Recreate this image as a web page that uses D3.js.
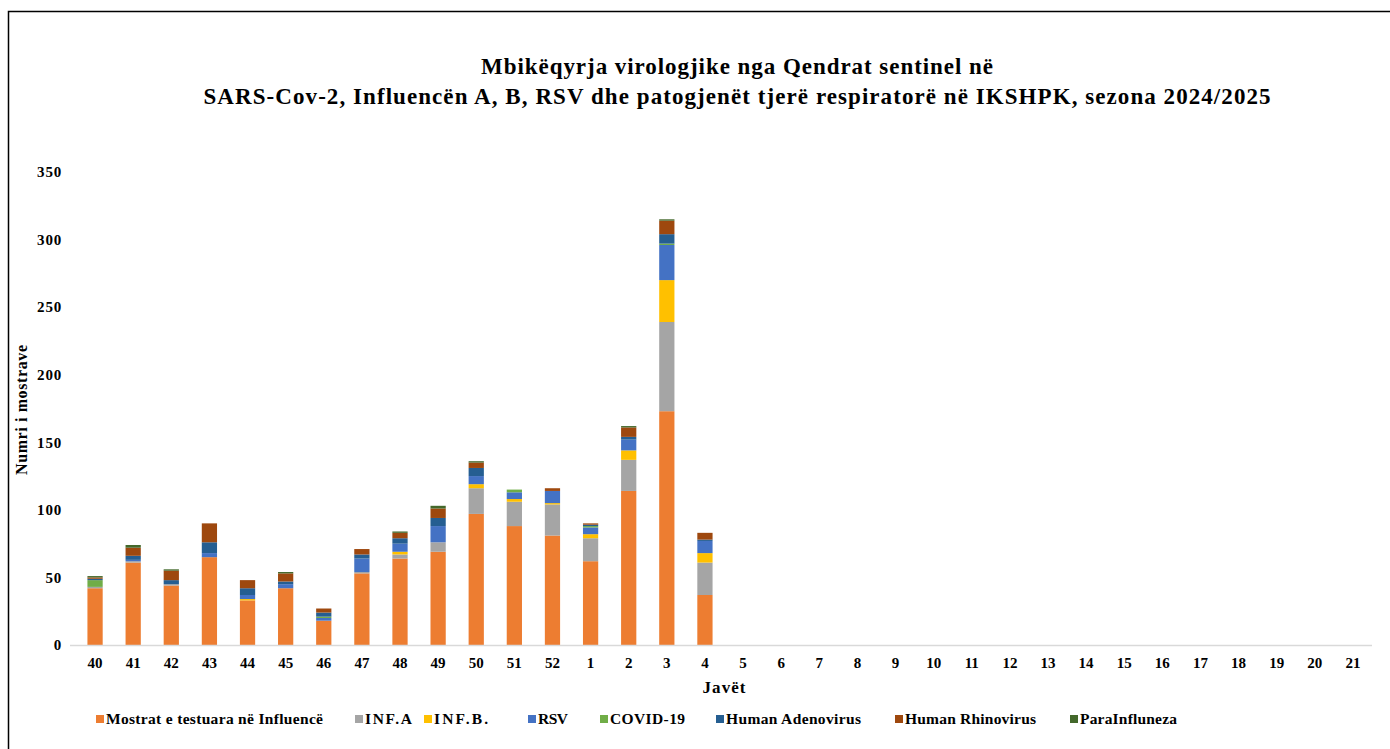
<!DOCTYPE html>
<html>
<head>
<meta charset="utf-8">
<script src="https://cdn.jsdelivr.net/npm/d3@7"></script>
<style>
  body { margin: 0; background: #fff; }
  svg text { font-family: 'Liberation Serif', 'Times New Roman', serif; font-weight: bold; fill: #000; }
</style>
</head>
<body>
<svg id="chart" width="1390" height="749"></svg>
<script>
'use strict'

// week labels on the x axis
var weeks = ['40', '41', '42', '43', '44', '45', '46', '47', '48', '49', '50', '51', '52',
  '1', '2', '3', '4', '5', '6', '7', '8', '9', '10', '11', '12', '13', '14', '15', '16',
  '17', '18', '19', '20', '21']

// values read for weeks 40 .. 4 (later weeks have no data yet)
var mostrat = [42, 61, 44, 65, 33, 42, 18, 53, 64, 69, 97, 88, 81, 62, 114, 173, 37]
var infA = [1, 1, 1, 0, 0, 0, 0, 1, 3, 7, 19, 18, 23, 17, 23, 66, 24]
var infB = [0, 0, 0, 0, 1, 0, 0, 0, 2, 0, 3, 2, 1, 3, 7, 31, 7]
var rsv = [0, 1, 0, 3, 3, 3, 2, 10, 6, 12, 6, 5, 9, 5, 8, 26, 9]
var covid = [5, 0, 0, 0, 0, 0, 1, 0, 0, 0, 0, 2, 0, 1, 0, 1, 0]
var adeno = [1, 3, 3, 8, 5, 2, 3, 3, 4, 6, 6, 0, 0, 1, 2, 7, 1]
var rhino = [1, 6, 7, 14, 6, 6, 3, 4, 4, 7, 4, 0, 2, 1, 7, 10, 5]
var para = [1, 2, 1, 0, 0, 1, 0, 0, 1, 2, 1, 0, 0, 0, 1, 1, 0]

var yTicks = [0, 50, 100, 150, 200, 250, 300, 350]

var series = [
  { key: 'Mostrat e testuara në Influencë', values: mostrat, color: '#ED7D31' },
  { key: 'INF.A', values: infA, color: '#A5A5A5' },
  { key: 'INF.B.', values: infB, color: '#FFC000' },
  { key: 'RSV', values: rsv, color: '#4472C4' },
  { key: 'COVID-19', values: covid, color: '#70AD47' },
  { key: 'Human Adenovirus', values: adeno, color: '#255E91' },
  { key: 'Human Rhinovirus', values: rhino, color: '#9E480E' },
  { key: 'ParaInfluneza', values: para, color: '#43682B' }
]

// legend placement (x of marker, width of label)
var legendX = [96, 355, 424, 528, 600, 716, 895, 1070]
var legendW = [217, 47, 54, 30, 75, 135, 131, 97]

var svg = d3.select('#chart')

// outer frame
svg.append('rect')
  .attr('x', 8.5).attr('y', 11.5)
  .attr('width', 1400).attr('height', 800)
  .style('fill', 'none').style('stroke', '#000').style('stroke-width', 1.5)

// title
var title = svg.append('text')
  .attr('text-anchor', 'middle')
  .style('font-size', '23px')
title.append('tspan').attr('x', 737).attr('y', 74)
  .attr('textLength', 512).attr('lengthAdjust', 'spacing')
  .text('Mbikëqyrja virologjike  nga Qendrat  sentinel  në')
title.append('tspan').attr('x', 737).attr('y', 104)
  .attr('textLength', 1067).attr('lengthAdjust', 'spacing')
  .text('SARS-Cov-2,  Influencën A, B, RSV dhe patogjenët tjerë respiratorë  në IKSHPK, sezona  2024/2025')

var x = d3.scaleBand()
  .domain(weeks)
  .range([76, 1372])
  .paddingInner(0.6)
  .paddingOuter(0.3)

var y = d3.scaleLinear()
  .domain([0, 350])
  .range([645, 172])

// build rows for the stack
var rows = mostrat.map(function (d, i) {
  var row = { week: weeks[i] }
  series.forEach(function (s) { row[s.key] = s.values[i] })
  return row
})

var stack = d3.stack().keys(series.map(function (s) { return s.key }))
var layers = stack(rows)

var layer = svg.selectAll('g.layer')
  .data(layers)
  .enter().append('g')
  .attr('class', 'layer')
  .style('fill', function (d, i) { return series[i].color })

layer.selectAll('rect')
  .data(function (d) { return d })
  .enter().append('rect')
  .attr('x', function (d) { return x(d.data.week) })
  .attr('width', x.bandwidth())
  .attr('y', function (d) { return y(d[1]) })
  .attr('height', function (d) { return y(d[0]) - y(d[1]) })

// x axis line
svg.append('line')
  .attr('x1', 70).attr('x2', 1372)
  .attr('y1', y(0) + 0.5).attr('y2', y(0) + 0.5)
  .style('stroke', '#D9D9D9').style('stroke-width', 1.5)

// x axis labels
var xAxis = d3.axisBottom(x).tickSize(0).tickPadding(12)
var gx = svg.append('g')
  .attr('transform', 'translate(0,' + y(0) + ')')
  .call(xAxis)
gx.select('.domain').remove()
gx.selectAll('text')
  .style('font-family', "'Liberation Serif', serif")
  .style('font-weight', 'bold')
  .style('font-size', '15px')

// y axis labels
var yAxis = d3.axisLeft(y).tickValues(yTicks).tickSize(0).tickPadding(0)
var gy = svg.append('g')
  .attr('transform', 'translate(62,0)')
  .call(yAxis)
gy.select('.domain').remove()
gy.selectAll('text')
  .style('font-family', "'Liberation Serif', serif")
  .style('font-weight', 'bold')
  .style('font-size', '15px')
  .style('letter-spacing', '0.8px')

// axis titles
svg.append('text')
  .attr('x', 724).attr('y', 693)
  .attr('text-anchor', 'middle')
  .attr('textLength', 43).attr('lengthAdjust', 'spacing')
  .style('font-size', '17px')
  .text('Javët')

svg.append('text')
  .attr('transform', 'translate(27,410) rotate(-90)')
  .attr('text-anchor', 'middle')
  .attr('textLength', 130).attr('lengthAdjust', 'spacing')
  .style('font-size', '16px')
  .text('Numri i mostrave')

// legend
var legend = svg.selectAll('g.legend')
  .data(series)
  .enter().append('g')
  .attr('class', 'legend')
  .attr('transform', function (d, i) { return 'translate(' + legendX[i] + ',720)' })
legend.append('rect')
  .attr('x', 0).attr('y', -5)
  .attr('width', 8).attr('height', 8)
  .style('fill', function (d) { return d.color })
legend.append('text')
  .attr('x', 10).attr('y', 4)
  .attr('textLength', function (d, i) { return legendW[i] })
  .attr('lengthAdjust', 'spacing')
  .style('font-size', '15.5px')
  .text(function (d) { return d.key })
</script>
</body>
</html>
